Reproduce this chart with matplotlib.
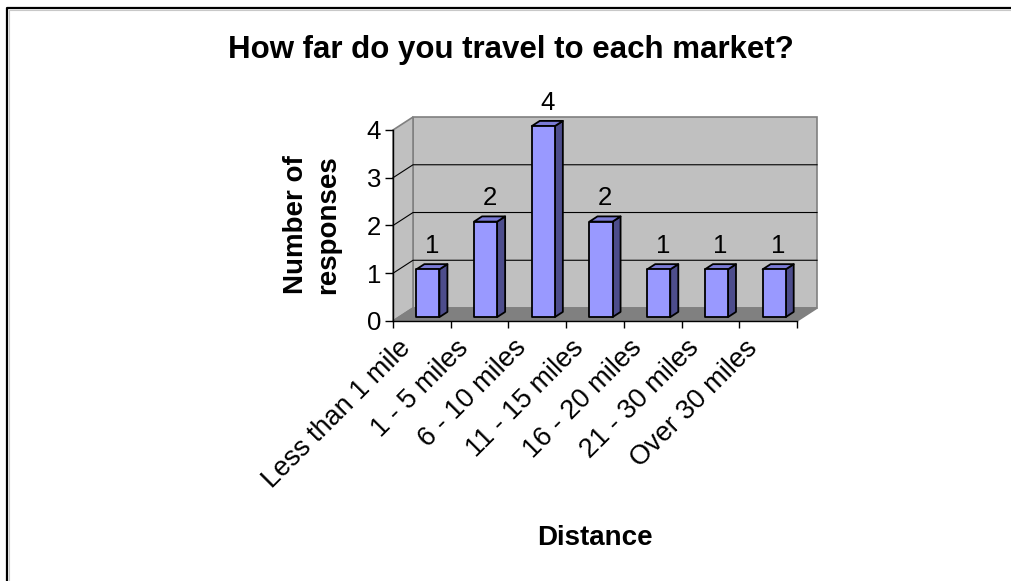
import matplotlib
matplotlib.use('Agg')
import matplotlib.pyplot as plt
from matplotlib.patches import Polygon
from matplotlib.lines import Line2D
from matplotlib.transforms import offset_copy

# data
categories = ["Less than 1 mile", "1 - 5 miles", "6 - 10 miles", "11 - 15 miles",
              "16 - 20 miles", "21 - 30 miles", "Over 30 miles"]
responses = [1, 2, 4, 2, 1, 1, 1]
y_ticks = [0, 1, 2, 3, 4]

title = "How far do you travel to each market?"
x_title = "Distance"
y_title = "Number of\nresponses"

# colours
FRONT = "#9999FF"
TOP = "#7B7BD6"
SIDE = "#4D4D8C"
WALL = "#C0C0C0"
FLOOR = "#808080"
EDGE = "#808080"

W, H = 1012, 581
fig = plt.figure(figsize=(W / 100, H / 100), dpi=100)
fig.patch.set_facecolor("white")
plt.rcParams['font.family'] = ['Liberation Sans', 'DejaVu Sans']

# front plane of the 3d box
ax = fig.add_axes([393 / W, (H - 321) / H, 404 / W, 191 / H])
n = len(categories)
ymax = max(y_ticks)
ax.set_xlim(0, n)
ax.set_ylim(0, ymax)
ax.patch.set_alpha(0)

# depth offset in data units
DX, DY = 0.347, 0.272

# walls and floor
ax.add_patch(Polygon([(DX, DY), (n + DX, DY), (n + DX, ymax + DY), (DX, ymax + DY)],
                     closed=True, fc=WALL, ec=EDGE, lw=1.2, clip_on=False, zorder=1))
ax.add_patch(Polygon([(0, 0), (DX, DY), (DX, ymax + DY), (0, ymax)],
                     closed=True, fc=WALL, ec=EDGE, lw=1.2, clip_on=False, zorder=1))
ax.add_patch(Polygon([(0, 0), (n, 0), (n + DX, DY), (DX, DY)],
                     closed=True, fc=FLOOR, ec=EDGE, lw=1.2, clip_on=False, zorder=1))

# gridlines on left wall and back wall
for t in y_ticks[1:-1]:
    ax.plot([0, DX, n + DX], [t, t + DY, t + DY], color="black", lw=0.8,
            clip_on=False, zorder=2)

# 3d bars
d0, d1 = 0.3, 0.7
bw = 0.4
for i, v in enumerate(responses):
    x0 = i + (1 - bw) / 2 + d0 * DX
    x1 = x0 + bw
    yb = d0 * DY
    ox, oy = (d1 - d0) * DX, (d1 - d0) * DY
    kw = dict(closed=True, ec="black", lw=1.3, clip_on=False, joinstyle="round")
    ax.add_patch(Polygon([(x1, yb), (x1 + ox, yb + oy), (x1 + ox, v + yb + oy), (x1, v + yb)],
                         fc=SIDE, zorder=3, **kw))
    ax.add_patch(Polygon([(x0, v + yb), (x1, v + yb), (x1 + ox, v + yb + oy), (x0 + ox, v + yb + oy)],
                         fc=TOP, zorder=3, **kw))
    ax.add_patch(Polygon([(x0, yb), (x1, yb), (x1, v + yb), (x0, v + yb)],
                         fc=FRONT, zorder=4, **kw))
    ax.annotate(str(v), xy=(i + 0.5 + (d0 + d1) / 2 * DX, v + d1 * DY),
                xytext=(0, 8), textcoords="offset points", ha="center", va="baseline",
                fontsize=18.5, color="black", annotation_clip=False)

# axes lines and ticks
for s in ["top", "right"]:
    ax.spines[s].set_visible(False)
for s in ["left", "bottom"]:
    ax.spines[s].set_color("black")
    ax.spines[s].set_linewidth(1.0)
    ax.spines[s].set_zorder(5)
ax.set_yticks(y_ticks)
ax.set_yticklabels([str(t) for t in y_ticks], fontsize=18.5)
ax.tick_params(axis="y", direction="out", length=5.5, width=1, pad=3)
ax.set_xticks(range(n + 1))
ax.set_xticklabels([])
ax.tick_params(axis="x", direction="out", length=5, width=1)

lbl_tr = offset_copy(ax.transData, fig=fig, x=-24, y=-14, units="dots")
for i, c in enumerate(categories):
    ax.text(i + 0.5, 0, c, transform=lbl_tr, rotation=45, rotation_mode="anchor",
            ha="right", va="top", fontsize=19.5, clip_on=False)

# titles
fig.text(511 / W, 1 - 58 / H, title, ha="center", va="baseline",
         fontsize=22.5, fontweight="bold")
fig.text(595 / W, 1 - 545 / H, x_title, ha="center", va="baseline",
         fontsize=20, fontweight="bold")
fig.text(312 / W, 1 - 225 / H, y_title, ha="center", va="center", rotation=90,
         fontsize=20, fontweight="bold", linespacing=1.3, multialignment="center")

# outer chart border (top and left visible)
bx, by = 7 / W, 1 - 8 / H
fig.add_artist(Line2D([bx, bx, 1], [0, by, by], transform=fig.transFigure,
                      color="black", lw=1.6))
fig.add_artist(Line2D([bx + 1.5 / W, bx + 1.5 / W, 1], [0, by - 1.5 / H, by - 1.5 / H],
                      transform=fig.transFigure, color="#C8C8C8", lw=0.8))

fig.savefig("out.png", dpi=100, facecolor="white")
